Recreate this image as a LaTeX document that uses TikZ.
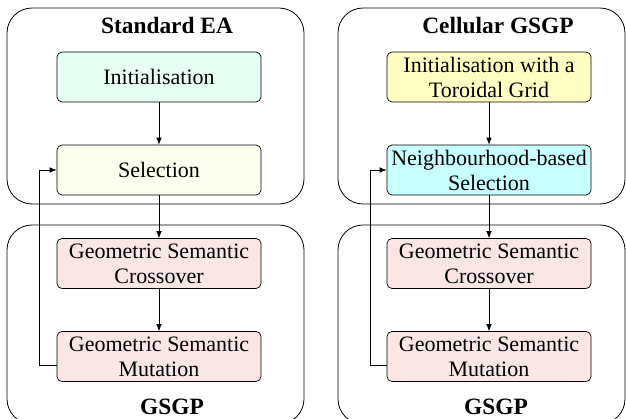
\documentclass[tikz,border=0pt]{standalone}
\usepackage{fontspec}
\setmainfont{Liberation Serif}
\usetikzlibrary{arrows.meta}
\definecolor{cmint}{HTML}{E8FFF4}
\definecolor{csel}{HTML}{FCFFEE}
\definecolor{cyel}{HTML}{FFFFC4}
\definecolor{ccyan}{HTML}{C8FFFF}
\definecolor{cpink}{HTML}{FBE6E6}
\tikzset{
  container/.style={draw, line width=0.8pt, rounded corners=25pt, inner sep=0pt},
  stepbox/.style={draw, line width=0.7pt, rounded corners=5pt, minimum width=204pt, minimum height=50pt, inner sep=0pt, align=center, font=\fontsize{22}{25}\selectfont},
  title/.style={anchor=base, inner sep=0pt, font=\fontsize{23.4}{26}\selectfont\bfseries},
  arr/.style={line width=0.7pt, -{Latex[length=7pt,width=5.5pt]}}
}
\begin{document}
\begin{tikzpicture}[x=1pt,y=-1pt]
\useasboundingbox (0,0) rectangle (626,418);
% containers
\node[container, minimum width=297pt, minimum height=196pt] (lt) at (155.5,106) {};
\node[container, minimum width=297pt, minimum height=199pt] (lb) at (155.5,324.5) {};
\node[container, minimum width=287pt, minimum height=196pt] (rt) at (481.5,106) {};
\node[container, minimum width=287pt, minimum height=199pt] (rb) at (481.5,324.5) {};
% titles
\node[title] (tl) at (167,33) {Standard EA};
\node[title] (tr) at (498,33) {Cellular GSGP};
\node[title] (bl) at (172,414) {GSGP};
\node[title] (br) at (496,414) {GSGP};
% left column
\node[stepbox, fill=cmint] (i1) at (159,77) {Initialisation};
\node[stepbox, fill=csel] (s1) at (159,170) {Selection};
\node[stepbox, fill=cpink] (c1) at (159,263.5) {Geometric Semantic\\Crossover};
\node[stepbox, fill=cpink] (m1) at (159,356.5) {Geometric Semantic\\Mutation};
% right column
\node[stepbox, fill=cyel] (i2) at (489,77) {Initialisation with a\\Toroidal Grid};
\node[stepbox, fill=ccyan] (s2) at (489,170) {Neighbourhood-based\\Selection};
\node[stepbox, fill=cpink] (c2) at (489,263.5) {Geometric Semantic\\Crossover};
\node[stepbox, fill=cpink] (m2) at (489,356.5) {Geometric Semantic\\Mutation};
% arrows
\draw[arr] (i1) -- (s1);
\draw[arr] (s1) -- (c1);
\draw[arr] (c1) -- (m1);
\draw[arr] ([yshift=-8.5pt]m1.west) -- ++(-17,0) |- (s1.west);
\draw[arr] (i2) -- (s2);
\draw[arr] (s2) -- (c2);
\draw[arr] (c2) -- (m2);
\draw[arr] ([yshift=-8.5pt]m2.west) -- ++(-16,0) |- (s2.west);
\end{tikzpicture}
\end{document}
